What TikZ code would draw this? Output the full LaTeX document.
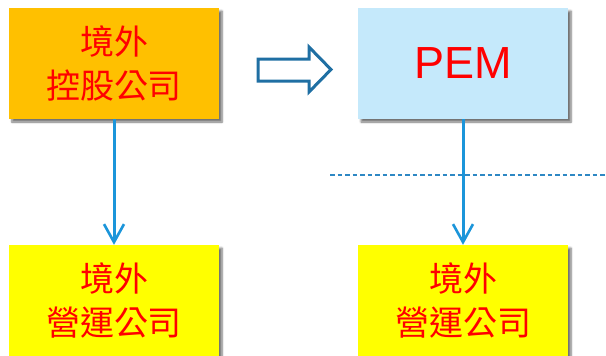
\documentclass[tikz,border=0pt]{standalone}
\usepackage{fontspec}
\setmainfont{Liberation Sans}
\newfontfamily\cjk{Noto Sans CJK TC}
\usetikzlibrary{arrows.meta,shadows.blur}
\definecolor{boxorange}{HTML}{FFC000}
\definecolor{boxblue}{HTML}{C5E9FB}
\definecolor{boxyellow}{HTML}{FFFF00}
\definecolor{txtred}{HTML}{FF0000}
\definecolor{linkblue}{HTML}{1B95DA}
\definecolor{dashblue}{HTML}{2E88C4}
\definecolor{bigarrow}{HTML}{1F6FA3}
\tikzset{
  orgbox/.style={rectangle, minimum width=210pt, minimum height=111pt, inner sep=0pt,
    text=txtred, align=center,
    blur shadow={shadow xshift=3pt, shadow yshift=-3pt, shadow blur steps=6, shadow opacity=55}},
  cjktext/.style={font=\cjk\fontsize{34pt}{44pt}\selectfont},
  link/.style={draw=linkblue, line width=3pt, -{Straight Barb[length=18pt,width=20pt,line width=2.6pt]}},
}
\begin{document}
\begin{tikzpicture}[x=1pt,y=1pt]
\useasboundingbox (0,0) rectangle (606,-356);
\node[orgbox, cjktext, fill=boxorange] (hold) at (114,-63.5) {境外\\控股公司};
\node[orgbox, fill=boxblue, font=\fontsize{45pt}{50pt}\selectfont] (pem) at (463,-63.5) {PEM};
\node[orgbox, cjktext, fill=boxyellow] (opl) at (114,-300.5) {境外\\營運公司};
\node[orgbox, cjktext, fill=boxyellow] (opr) at (463,-300.5) {境外\\營運公司};
\draw[link] (hold.south) -- (opl.north);
\draw[link] (pem.south) -- (opr.north);
\coordinate (dl) at (330,-175);
\coordinate (dr) at (606,-175);
\draw[dashblue, line width=1.3pt, dash pattern=on 4.5pt off 3pt] (dl) -- (dr);
\draw[bigarrow, line width=3pt, fill=white, line join=miter]
  (258,-59) -- (309,-59) -- (309,-47) -- (331,-69.5) -- (309,-92) -- (309,-81) -- (258,-81) -- cycle;
\end{tikzpicture}
\end{document}
